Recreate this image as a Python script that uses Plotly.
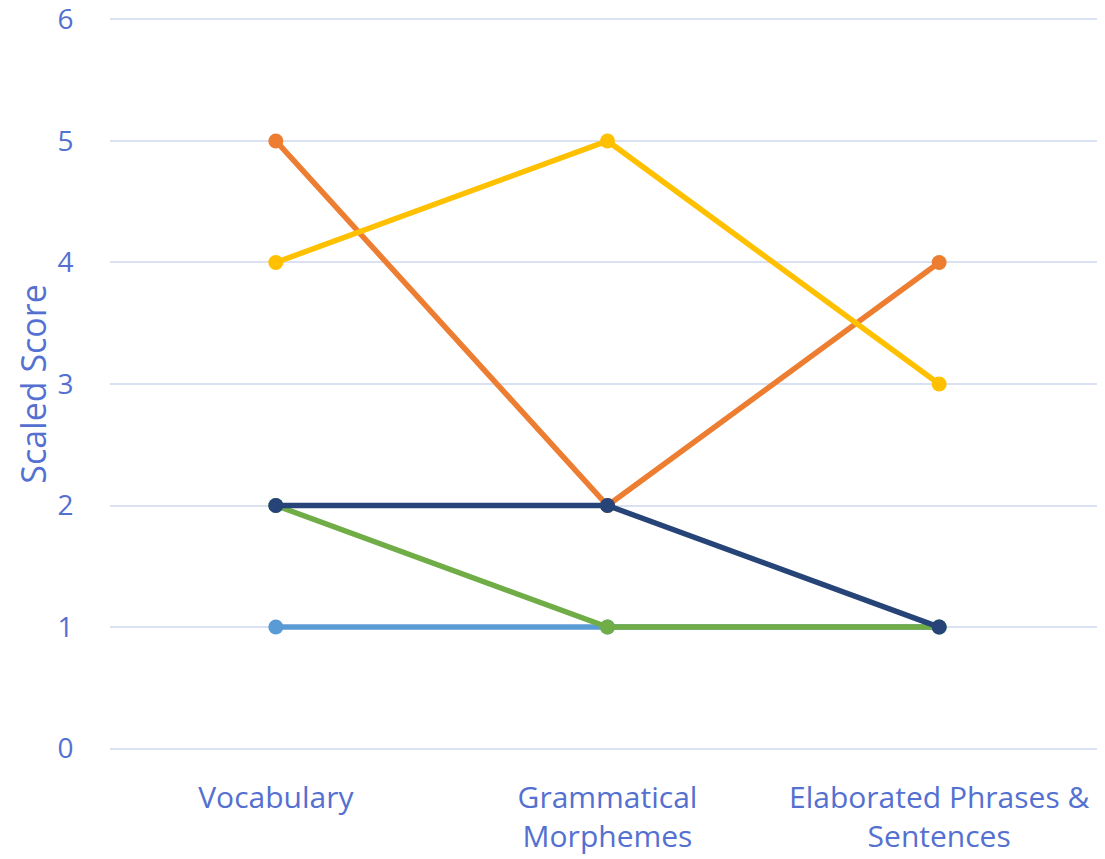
import plotly.graph_objects as go

categories = ["Vocabulary", "Grammatical<br>Morphemes", "Elaborated Phrases &<br>Sentences"]
series_names = ["Series 1", "Series 2", "Series 3", "Series 4", "Series 5"]
light_blue = [1, 1, 1]
orange = [5, 2, 4]
yellow = [4, 5, 3]
green = [2, 1, 1]
dark_blue = [2, 2, 1]
y_ticks = [0, 1, 2, 3, 4, 5, 6]

series = [
    (series_names[0], light_blue, "#5B9BD5"),
    (series_names[1], orange, "#ED7D31"),
    (series_names[2], yellow, "#FFC000"),
    (series_names[3], green, "#70AD47"),
    (series_names[4], dark_blue, "#264478"),
]

text_color = "#5470D0"
fig = go.Figure()
for name, vals, col in series:
    fig.add_trace(go.Scatter(
        x=categories, y=vals, name=name, mode="lines+markers",
        line=dict(color=col, width=5.5),
        marker=dict(color=col, size=15),
        cliponaxis=False,
    ))

fig.update_layout(
    width=1097, height=851,
    margin=dict(l=102, r=0, t=9, b=108),
    paper_bgcolor="white", plot_bgcolor="white",
    showlegend=False,
    font=dict(family="Open Sans", color=text_color, size=30),
)
fig.update_xaxes(range=[-0.5, 2.5], showgrid=False, zeroline=False, showline=False,
                 ticks="outside", ticklen=20, tickcolor="rgba(0,0,0,0)", automargin=False,
                 tickfont=dict(size=30, color=text_color))
fig.update_yaxes(range=[-0.02, 6.02], tickvals=y_ticks, showgrid=True, gridcolor="#D9E1F2",
                 gridwidth=2, zeroline=False, showline=False, ticks="outside",
                 ticklen=30, tickcolor="rgba(0,0,0,0)", automargin=False,
                 ticklabeloverflow="allow",
                 tickfont=dict(size=28, color=text_color),
                 title=dict(text="Scaled Score", font=dict(size=34, color=text_color), standoff=0))
fig.write_html("out.html")
